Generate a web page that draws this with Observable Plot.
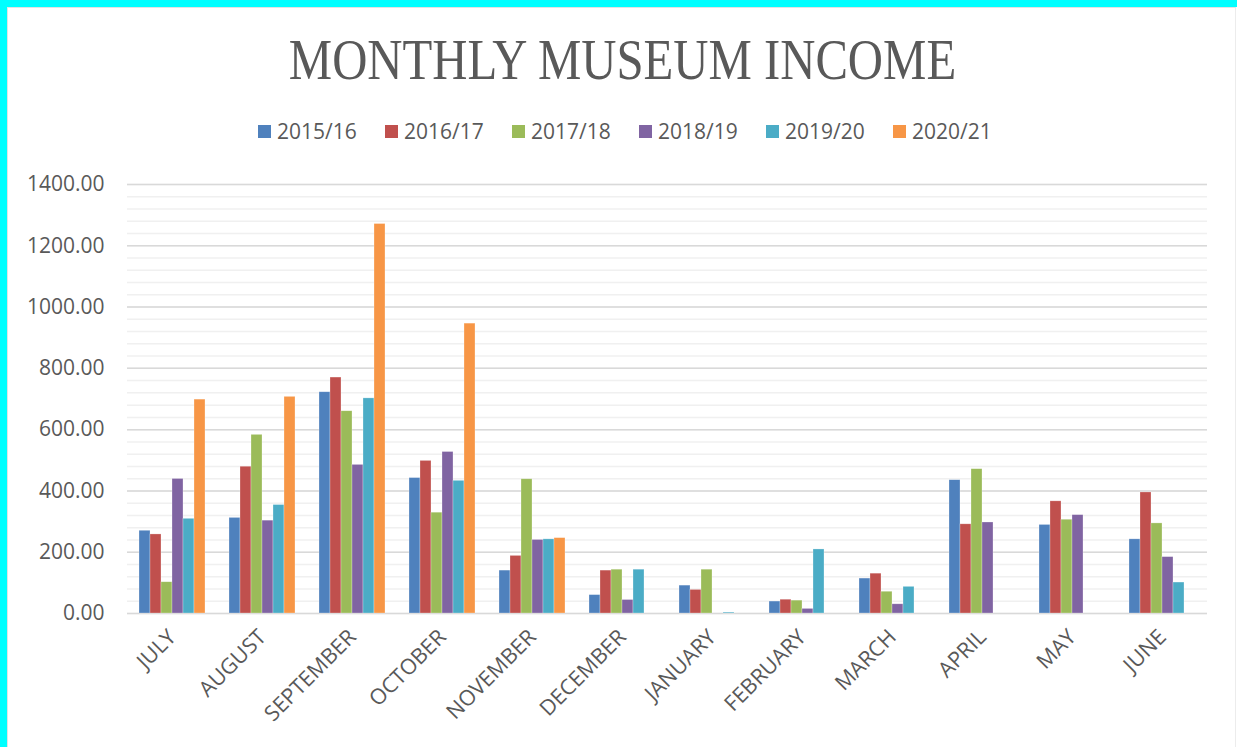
<!DOCTYPE html>
<html>
<head>
<meta charset="utf-8">
<script src="https://cdn.jsdelivr.net/npm/d3@7"></script>
<script src="https://cdn.jsdelivr.net/npm/@observablehq/plot@0.6"></script>
<style>
  html, body { margin: 0; padding: 0; background: #fff; }
  #page { position: relative; width: 1237px; height: 747px; overflow: hidden; background: #fff; }
  #bt { position: absolute; left: 0; top: 0; width: 1237px; height: 7px; background: #00ffff; }
  #bl { position: absolute; left: 0; top: 0; width: 7px; height: 747px; background: #00ffff; }
  #inner { position: absolute; left: 7px; top: 7px; width: 1229px; height: 740px; box-sizing: border-box;
           border-top: 1px solid #e3e3e3; border-left: 1px solid #e3e3e3; border-right: 1px solid #ececec; }
  #title { position: absolute; left: 0; width: 1244px; top: 32px; text-align: center;
           font-family: "Liberation Serif", serif; font-size: 56px; line-height: 1; color: #595959; }
  #title span { display: inline-block; transform: scaleX(0.87); transform-origin: center; white-space: nowrap; }
  #legend { position: absolute; left: 258px; top: 121px; display: flex; font-family: "Open Sans", sans-serif;
            font-size: 21px; line-height: 21px; color: #595959; }
  .item { width: 127px; display: flex; align-items: center; }
  .sw { width: 13px; height: 13px; margin-right: 6px; flex: none; }
  #chart { position: absolute; left: 8px; top: 160px; }
</style>
</head>
<body>
<div id="page">
  <div id="bt"></div><div id="bl"></div><div id="inner"></div>
  <div id="title"><span>MONTHLY MUSEUM INCOME</span></div>
  <div id="legend"></div>
  <div id="chart"></div>
</div>
<script>
const months = ["JULY","AUGUST","SEPTEMBER","OCTOBER","NOVEMBER","DECEMBER","JANUARY","FEBRUARY","MARCH","APRIL","MAY","JUNE"];
const years = ["2015/16","2016/17","2017/18","2018/19","2019/20","2020/21"];
const colors = ["#4F81BD","#C0504D","#9BBB59","#8064A2","#4BACC6","#F79646"];

const v2015 = [270, 312, 722, 442, 140, 60, 91, 39, 114, 435, 289, 242];
const v2016 = [258, 479, 770, 498, 188, 140, 77, 45, 130, 291, 366, 395];
const v2017 = [102, 583, 660, 329, 438, 143, 143, 42, 71, 471, 306, 294];
const v2018 = [439, 303, 485, 527, 240, 44, null, 15, 30, 297, 321, 184];
const v2019 = [309, 354, 702, 433, 242, 143, 3, 209, 87, null, null, 101];
const v2020 = [698, 707, 1271, 946, 246, null, null, null, null, null, null, null];

const yTicks = [0, 200, 400, 600, 800, 1000, 1200, 1400];
const minorStep = 40;

const series = [v2015, v2016, v2017, v2018, v2019, v2020];
const data = years.flatMap((yr, i) => series[i].map((v, j) => ({month: months[j], year: yr, value: v})))
  .filter(d => d.value != null);
const minor = d3.range(0, 1400 + 1, minorStep);

// legend
const lg = document.getElementById("legend");
years.forEach((yr, i) => {
  const it = document.createElement("div");
  it.className = "item";
  it.innerHTML = `<div class="sw" style="background:${colors[i]}"></div><span>${yr}</span>`;
  lg.appendChild(it);
});

const chart = Plot.plot({
  width: 1229,
  height: 587,
  marginLeft: 118,
  marginRight: 29,
  marginTop: 24,
  marginBottom: 134,
  style: {fontFamily: "'Open Sans', sans-serif", fontSize: "21px", color: "#595959", background: "transparent", overflow: "visible"},
  fx: {domain: months, padding: 0, label: null},
  x: {domain: years, paddingInner: 0, paddingOuter: 1, axis: null},
  y: {domain: [0, 1400], label: null},
  color: {domain: years, range: colors},
  marks: [
    Plot.ruleY(minor, {stroke: "#f0f0f0", strokeWidth: 1.5}),
    Plot.ruleY(yTicks, {stroke: "#d9d9d9", strokeWidth: 1.5}),
    Plot.barY(data, {fx: "month", x: "year", y: "value", fill: "year", stroke: "white", strokeOpacity: 0.45, strokeWidth: 0.6}),
    Plot.axisY({ticks: yTicks, tickFormat: d3.format(".2f"), tickSize: 0, tickPadding: 23, label: null, fontSize: 21}),
    Plot.axisFx({anchor: "bottom", tickRotate: -45, tickSize: 0, tickPadding: 20, label: null, fontSize: 21.5})
  ]
});
document.getElementById("chart").appendChild(chart);
</script>
</body>
</html>
